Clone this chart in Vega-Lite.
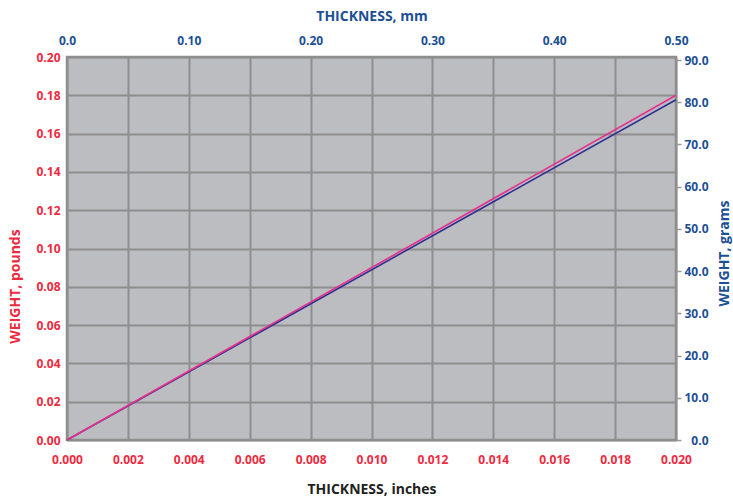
{
  "$schema": "https://vega.github.io/schema/vega-lite/v6.json",
  "width": 609,
  "height": 383,
  "autosize": {"type": "none"},
  "padding": {"left": 67, "top": 57, "right": 57, "bottom": 59},
  "background": "white",
  "config": {
    "font": "Open Sans",
    "view": {"fill": "#bcbdc1", "stroke": "#8e8e8e", "strokeWidth": 2.5},
    "axis": {
      "labelFont": "Open Sans",
      "labelFontWeight": "bold",
      "labelFontSize": 12,
      "titleFont": "Open Sans",
      "titleFontWeight": "bold",
      "titleFontSize": 14,
      "domain": false,
      "gridColor": "#8e8e8e",
      "gridWidth": 2,
      "gridOpacity": 1,
      "labelFlush": false,
      "labelOverlap": false
    }
  },
  "datasets": {
    "imperial": [
      {"thickness_in": 0.0, "weight_lb": 0.0},
      {"thickness_in": 0.02, "weight_lb": 0.18}
    ],
    "metric": [
      {"thickness_mm": 0.0, "weight_g": 0.0},
      {"thickness_mm": 0.5, "weight_g": 80.6}
    ]
  },
  "layer": [
    {
      "data": {"name": "metric"},
      "mark": {"type": "line", "color": "#2e3192", "strokeWidth": 1.6},
      "encoding": {
        "x": {
          "field": "thickness_mm",
          "type": "quantitative",
          "scale": {"domain": [0, 0.5], "nice": false, "zero": true},
          "axis": {
            "orient": "top",
            "title": "THICKNESS, mm",
            "values": [0, 0.1, 0.2, 0.3, 0.4, 0.5],
            "labelExpr": "datum.value == 0 ? '0.0' : format(datum.value, '.2f')",
            "grid": false,
            "ticks": true,
            "tickSize": 0,
            "labelPadding": 10,
            "labelColor": "#1c4f95",
            "titleColor": "#1c4f95",
            "titleBaseline": "middle",
            "titleY": -41
          }
        },
        "y": {
          "field": "weight_g",
          "type": "quantitative",
          "scale": {"domain": [0, 90.72], "nice": false, "zero": true},
          "axis": {
            "orient": "right",
            "title": "WEIGHT, grams",
            "values": [0, 10, 20, 30, 40, 50, 60, 70, 80, 90],
            "format": ".1f",
            "grid": false,
            "ticks": true,
            "tickSize": 5,
            "tickColor": "#999999",
            "tickWidth": 1.5,
            "labelAlign": "right",
            "labelPadding": 27,
            "labelColor": "#1c4f95",
            "titleColor": "#1c4f95",
            "titleAngle": 270,
            "titleAlign": "center",
            "titleBaseline": "middle",
            "titleX": 48,
            "titleY": 196
          }
        }
      }
    },
    {
      "data": {"name": "imperial"},
      "mark": {"type": "line", "color": "#e6318c", "strokeWidth": 1.6},
      "encoding": {
        "x": {
          "field": "thickness_in",
          "type": "quantitative",
          "scale": {"domain": [0, 0.02], "nice": false, "zero": true},
          "axis": {
            "orient": "bottom",
            "title": "THICKNESS, inches",
            "values": [0, 0.002, 0.004, 0.006, 0.008, 0.01, 0.012, 0.014, 0.016, 0.018, 0.02],
            "format": ".3f",
            "grid": true,
            "ticks": true,
            "tickSize": 0,
            "labelPadding": 14,
            "labelColor": "#ee2a3f",
            "titleColor": "#231f20",
            "titleBaseline": "middle",
            "titleY": 49
          }
        },
        "y": {
          "field": "weight_lb",
          "type": "quantitative",
          "scale": {"domain": [0, 0.2], "nice": false, "zero": true},
          "axis": {
            "orient": "left",
            "title": "WEIGHT, pounds",
            "values": [0, 0.02, 0.04, 0.06, 0.08, 0.1, 0.12, 0.14, 0.16, 0.18, 0.2],
            "format": ".2f",
            "grid": true,
            "ticks": true,
            "tickSize": 0,
            "labelPadding": 7,
            "labelColor": "#ee2a3f",
            "titleColor": "#ee2a3f",
            "titleAngle": 270,
            "titleAlign": "center",
            "titleBaseline": "middle",
            "titleX": -52,
            "titleY": 229
          }
        }
      }
    }
  ],
  "resolve": {
    "scale": {"x": "independent", "y": "independent"},
    "axis": {"x": "independent", "y": "independent"}
  }
}
